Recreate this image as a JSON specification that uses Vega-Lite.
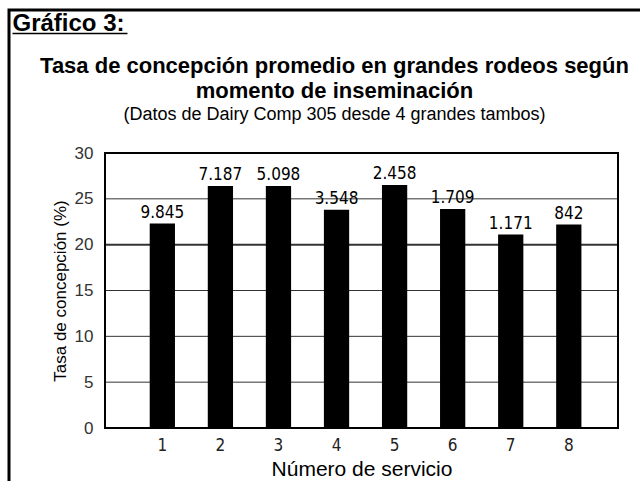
{
  "$schema": "https://vega.github.io/schema/vega-lite/v6.json",
  "autosize": {"type": "none"},
  "padding": {"left": 9, "top": 10, "right": -20, "bottom": -20},
  "width": 651,
  "height": 491,
  "background": "white",
  "config": {
    "view": {"stroke": "black", "strokeWidth": 3},
    "font": "Liberation Sans",
    "locale": {"number": {"decimal": ",", "thousands": ".", "grouping": [3], "currency": ["$", ""]}}
  },
  "title": {
    "text": ["Tasa de concepción promedio en grandes rodeos según", "momento de inseminación"],
    "subtitle": "(Datos de Dairy Comp 305 desde 4 grandes tambos)",
    "anchor": "middle",
    "frame": "group",
    "offset": -115,
    "font": "Liberation Sans",
    "fontSize": 22,
    "fontWeight": "bold",
    "color": "black",
    "lineHeight": 25,
    "subtitleFont": "Liberation Sans",
    "subtitleFontSize": 18,
    "subtitleColor": "black",
    "subtitlePadding": 3
  },
  "datasets": {
    "servicios": [
      {"servicio": "1", "tasa": 22.3, "vacas": 9845},
      {"servicio": "2", "tasa": 26.4, "vacas": 7187},
      {"servicio": "3", "tasa": 26.4, "vacas": 5098},
      {"servicio": "4", "tasa": 23.8, "vacas": 3548},
      {"servicio": "5", "tasa": 26.5, "vacas": 2458},
      {"servicio": "6", "tasa": 23.9, "vacas": 1709},
      {"servicio": "7", "tasa": 21.1, "vacas": 1171},
      {"servicio": "8", "tasa": 22.2, "vacas": 842}
    ],
    "grid": [{"v": 5}, {"v": 10}, {"v": 15}, {"v": 20}, {"v": 25}]
  },
  "data": {"name": "servicios"},
  "layer": [
    {
      "mark": {"type": "rule", "opacity": 0},
      "encoding": {
        "x": {
          "datum": 0,
          "type": "quantitative",
          "scale": {"domain": [0, 1], "range": [3, 118]},
          "axis": {
            "orient": "top",
            "offset": -23,
            "domain": true,
            "domainColor": "black",
            "domainWidth": 1.5,
            "ticks": false,
            "labels": false,
            "grid": false,
            "title": "Gráfico 3:",
            "titleFont": "Liberation Sans",
            "titleFontSize": 24,
            "titleFontWeight": "bold",
            "titleColor": "black",
            "titleAlign": "left",
            "titleAnchor": "start",
            "titleBaseline": "alphabetic",
            "titleX": 3,
            "titleY": -3
          }
        }
      }
    },
    {
      "data": {"name": "grid"},
      "mark": {"type": "rule", "color": "#333333"},
      "encoding": {
        "x": {"datum": 0, "type": "quantitative", "scale": {"domain": [0, 1], "range": [96, 609]}, "axis": null},
        "x2": {"datum": 1},
        "y": {
          "field": "v",
          "type": "quantitative",
          "scale": {"domain": [0, 30], "range": [418, 143]},
          "axis": {
            "orient": "left",
            "offset": -96,
            "values": [0, 5, 10, 15, 20, 25, 30],
            "domain": false,
            "ticks": false,
            "tickSize": 0,
            "grid": false,
            "labelFont": "Liberation Sans",
            "labelFontSize": 17,
            "labelColor": "#333333",
            "labelPadding": 12,
            "title": "Tasa de concepción (%)",
            "titleFont": "Liberation Sans",
            "titleFontSize": 17,
            "titleFontWeight": "normal",
            "titleColor": "black",
            "titlePadding": 5
          }
        },
        "strokeWidth": {"condition": {"test": "datum.v == 20", "value": 2}, "value": 1}
      }
    },
    {
      "mark": {"type": "rect", "filled": false, "stroke": "black", "strokeWidth": 2},
      "encoding": {
        "x": {"datum": 0, "type": "quantitative", "scale": {"domain": [0, 1], "range": [96, 609]}, "axis": null},
        "x2": {"datum": 1},
        "y": {"datum": 0, "type": "quantitative", "scale": {"domain": [0, 30], "range": [418, 143]}, "title": "Tasa de concepción (%)"},
        "y2": {"datum": 30}
      }
    },
    {
      "mark": {"type": "bar", "color": "black"},
      "encoding": {
        "x": {
          "field": "servicio",
          "type": "ordinal",
          "scale": {"type": "band", "range": [96, 609], "paddingInner": 0.565, "paddingOuter": 0.7, "align": 0.55},
          "axis": {
            "orient": "bottom",
            "offset": -73,
            "domain": false,
            "ticks": false,
            "tickSize": 0,
            "grid": false,
            "labelAngle": 0,
            "labelFont": "Liberation Sans Narrow, Arial Narrow, DejaVu Sans Condensed, sans-serif",
            "labelFontSize": 17,
            "labelColor": "#222222",
            "labelPadding": 9,
            "title": "Número de servicio",
            "titleFont": "Liberation Sans",
            "titleFontSize": 21,
            "titleFontWeight": "normal",
            "titleColor": "black",
            "titlePadding": 5
          }
        },
        "y": {"field": "tasa", "type": "quantitative", "scale": {"domain": [0, 30], "range": [418, 143]}, "title": "Tasa de concepción (%)"}
      }
    },
    {
      "mark": {
        "type": "text",
        "baseline": "alphabetic",
        "dy": -6,
        "font": "Liberation Sans Narrow, Arial Narrow, DejaVu Sans Condensed, sans-serif",
        "fontSize": 17,
        "color": "black"
      },
      "encoding": {
        "x": {
          "field": "servicio",
          "type": "ordinal",
          "scale": {"type": "band", "range": [96, 609], "paddingInner": 0.565, "paddingOuter": 0.7, "align": 0.55},
          "axis": null
        },
        "y": {"field": "tasa", "type": "quantitative", "scale": {"domain": [0, 30], "range": [418, 143]}, "title": "Tasa de concepción (%)"},
        "text": {"field": "vacas", "type": "quantitative", "format": ",d"}
      }
    }
  ],
  "resolve": {"scale": {"x": "independent"}}
}
